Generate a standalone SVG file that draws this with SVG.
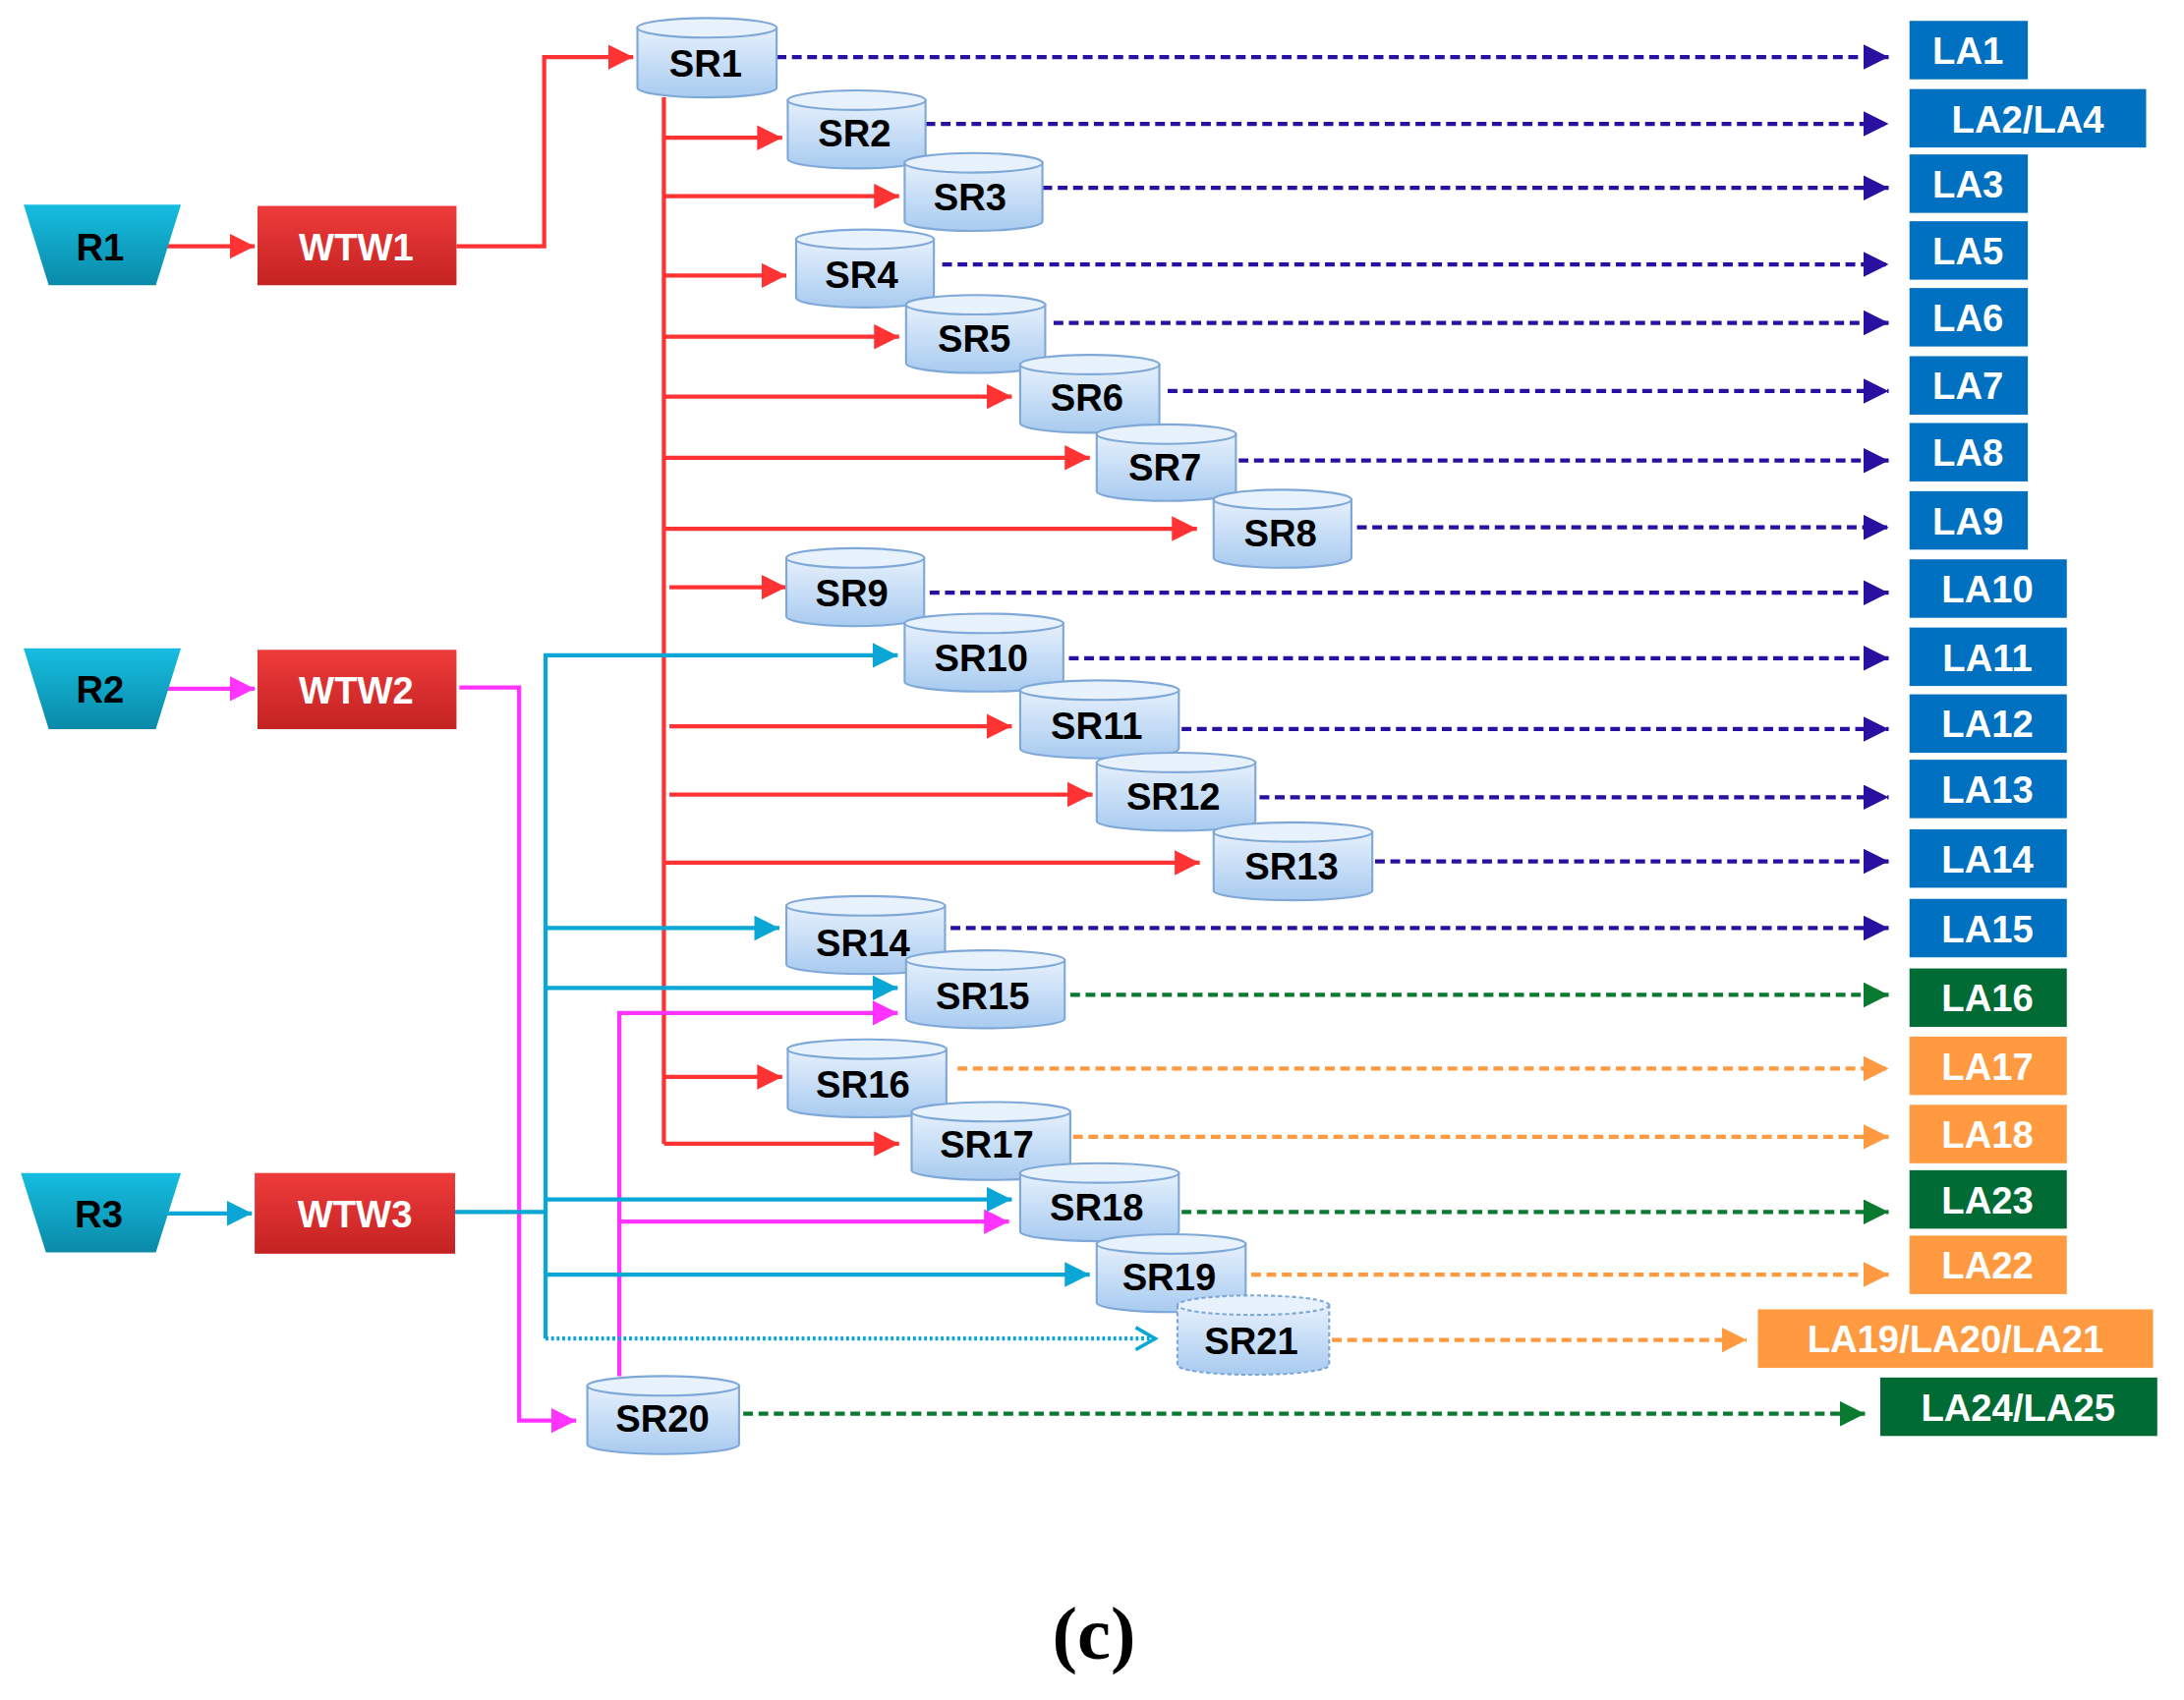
<svg xmlns="http://www.w3.org/2000/svg" width="2222" height="1730" viewBox="0 0 2222 1730">
<defs>
<linearGradient id="cyl" x1="0" y1="0" x2="0" y2="1"><stop offset="0" stop-color="#e6f0fc"/><stop offset="1" stop-color="#a8cbf0"/></linearGradient>
<linearGradient id="tr" x1="0" y1="0" x2="0" y2="1"><stop offset="0" stop-color="#16bde0"/><stop offset="1" stop-color="#0a8aa8"/></linearGradient>
<linearGradient id="wt" x1="0" y1="0" x2="0" y2="1"><stop offset="0" stop-color="#ee3b3b"/><stop offset="1" stop-color="#c42222"/></linearGradient>
<marker id="mr" markerUnits="userSpaceOnUse" markerWidth="20" markerHeight="20" refX="18" refY="9" orient="auto"><path d="M0,0 L18,9 L0,18 z" fill="#f33"/></marker>
<marker id="mm" markerUnits="userSpaceOnUse" markerWidth="20" markerHeight="20" refX="18" refY="9" orient="auto"><path d="M0,0 L18,9 L0,18 z" fill="#f3f"/></marker>
<marker id="mb" markerUnits="userSpaceOnUse" markerWidth="20" markerHeight="20" refX="18" refY="9" orient="auto"><path d="M0,0 L18,9 L0,18 z" fill="#0aa6d6"/></marker>
<marker id="mo" markerUnits="userSpaceOnUse" markerWidth="20" markerHeight="20" refX="16" refY="9" orient="auto"><path d="M2,1 L16,9 L2,17" fill="none" stroke="#0aa6d6" stroke-width="2.5"/></marker>
<marker id="mn" markerUnits="userSpaceOnUse" markerWidth="20" markerHeight="20" refX="18" refY="9" orient="auto"><path d="M0,0 L18,9 L0,18 z" fill="#2a10a0"/></marker>
<marker id="mg" markerUnits="userSpaceOnUse" markerWidth="20" markerHeight="20" refX="18" refY="9" orient="auto"><path d="M0,0 L18,9 L0,18 z" fill="#0a7a30"/></marker>
<marker id="mor" markerUnits="userSpaceOnUse" markerWidth="20" markerHeight="20" refX="18" refY="9" orient="auto"><path d="M0,0 L18,9 L0,18 z" fill="#ff9a40"/></marker>
</defs>
<style>
text{font-family:"Liberation Sans",Arial,sans-serif;font-weight:bold;text-anchor:middle}
.n{font-size:27px;fill:#000}
.w{font-size:27px;fill:#fff}
.cb{fill:url(#cyl);stroke:#7fa8d8;stroke-width:1.5}
.ct{fill:#e8f2fd;stroke:#7fa8d8;stroke-width:1.5}
.red{stroke:#f33;stroke-width:3;fill:none}
.mag{stroke:#f3f;stroke-width:3;fill:none}
.blu{stroke:#0aa6d6;stroke-width:3;fill:none}
.nav{stroke:#2a10a0;stroke-width:3;fill:none;stroke-dasharray:7 4;marker-end:url(#mn)}
.grn{stroke:#0a7a30;stroke-width:3;fill:none;stroke-dasharray:7 4;marker-end:url(#mg)}
.org{stroke:#ff9a40;stroke-width:3;fill:none;stroke-dasharray:7 4;marker-end:url(#mor)}
.lb{fill:#0070c0}.lg{fill:#006b35}.lo{fill:#ff9a40}
</style>
<g transform="scale(1.416)">
<g id="connectors">
<path class="red" d="M120,177 H183" marker-end="url(#mr)"/>
<path class="red" d="M328,177 H391 V41 H455" marker-end="url(#mr)"/>
<path class="red" d="M477,70 V822"/>
<g class="red" marker-end="url(#mr)">
<path d="M477,99 H562"/><path d="M477,141 H646"/><path d="M477,198 H565"/><path d="M477,242 H646"/>
<path d="M477,285 H727"/><path d="M477,329 H783"/><path d="M477,380 H860"/><path d="M481,422 H565"/>
<path d="M481,522 H727"/><path d="M481,571 H785"/><path d="M477,620 H862"/><path d="M477,774 H562"/><path d="M477,822 H646"/>
</g>
<path class="mag" d="M120,495 H183" marker-end="url(#mm)"/>
<path class="mag" d="M330,494 H373 V1021 H414" marker-end="url(#mm)"/>
<path class="mag" d="M445,989 V728 H645" marker-end="url(#mm)"/>
<path class="mag" d="M445,878 H725" marker-end="url(#mm)"/>
<path class="blu" d="M120,872 H181" marker-end="url(#mb)"/>
<path class="blu" d="M327,871 H392"/>
<path class="blu" d="M392,962 V471 H645" marker-end="url(#mb)"/>
<g class="blu" marker-end="url(#mb)">
<path d="M392,667 H560"/><path d="M392,710 H645"/><path d="M392,862 H727"/><path d="M392,916 H783"/>
</g>
<path class="blu" d="M392,962 H830" stroke-dasharray="2 2" marker-end="url(#mo)"/>
<path class="nav" d="M558,41 H1357"/>
<path class="nav" d="M665,89 H1357"/>
<path class="nav" d="M749,135 H1357"/>
<path class="nav" d="M677,190 H1357"/>
<path class="nav" d="M757,232 H1357"/>
<path class="nav" d="M839,281 H1357"/>
<path class="nav" d="M890,331 H1357"/>
<path class="nav" d="M975,379 H1357"/>
<path class="nav" d="M668,426 H1357"/>
<path class="nav" d="M768,473 H1357"/>
<path class="nav" d="M849,524 H1357"/>
<path class="nav" d="M905,573 H1357"/>
<path class="nav" d="M988,619 H1357"/>
<path class="nav" d="M683,667 H1357"/>
<path class="grn" d="M769,715 H1357"/>
<path class="org" d="M688,768 H1357"/>
<path class="org" d="M771,817 H1357"/>
<path class="grn" d="M849,871 H1357"/>
<path class="org" d="M899,916 H1357"/>
<path class="org" d="M957,963 H1255"/>
<path class="grn" d="M534,1016 H1340"/>
</g>
<g id="R1"><path d="M17,147 H130 L112,205 H35 Z" fill="url(#tr)"/><text class="n" x="72" y="187">R1</text></g>
<g id="R2"><path d="M17,466 H130 L112,524 H35 Z" fill="url(#tr)"/><text class="n" x="72" y="505">R2</text></g>
<g id="R3"><path d="M15,843 H130 L112,900 H33 Z" fill="url(#tr)"/><text class="n" x="71" y="882">R3</text></g>
<g id="WTW1"><rect x="185" y="148" width="143" height="57" fill="url(#wt)"/><text class="w" x="256" y="187">WTW1</text></g>
<g id="WTW2"><rect x="185" y="467" width="143" height="57" fill="url(#wt)"/><text class="w" x="256" y="506">WTW2</text></g>
<g id="WTW3"><rect x="183" y="843" width="144" height="58" fill="url(#wt)"/><text class="w" x="255" y="882">WTW3</text></g>
<g id="SR1"><path class="cb" d="M458,20 V63 A50,7 0 0 0 558,63 V20 Z"/><ellipse class="ct" cx="508" cy="20" rx="50" ry="7"/><text class="n" x="507" y="55">SR1</text></g>
<g id="SR2"><path class="cb" d="M566,72 V114 A49.5,7 0 0 0 665,114 V72 Z"/><ellipse class="ct" cx="615.5" cy="72" rx="49.5" ry="7"/><text class="n" x="614" y="105">SR2</text></g>
<g id="SR3"><path class="cb" d="M650,117 V159 A49.5,7 0 0 0 749,159 V117 Z"/><ellipse class="ct" cx="699.5" cy="117" rx="49.5" ry="7"/><text class="n" x="697" y="151">SR3</text></g>
<g id="SR4"><path class="cb" d="M572,172 V214 A49.5,7 0 0 0 671,214 V172 Z"/><ellipse class="ct" cx="621.5" cy="172" rx="49.5" ry="7"/><text class="n" x="619" y="207">SR4</text></g>
<g id="SR5"><path class="cb" d="M651,219 V261 A50,7 0 0 0 751,261 V219 Z"/><ellipse class="ct" cx="701" cy="219" rx="50" ry="7"/><text class="n" x="700" y="253">SR5</text></g>
<g id="SR6"><path class="cb" d="M733,262 V304 A50,7 0 0 0 833,304 V262 Z"/><ellipse class="ct" cx="783" cy="262" rx="50" ry="7"/><text class="n" x="781" y="295">SR6</text></g>
<g id="SR7"><path class="cb" d="M788,312 V353 A50,7 0 0 0 888,353 V312 Z"/><ellipse class="ct" cx="838" cy="312" rx="50" ry="7"/><text class="n" x="837" y="345">SR7</text></g>
<g id="SR8"><path class="cb" d="M872,359 V401 A49.5,7 0 0 0 971,401 V359 Z"/><ellipse class="ct" cx="921.5" cy="359" rx="49.5" ry="7"/><text class="n" x="920" y="393">SR8</text></g>
<g id="SR9"><path class="cb" d="M565,401 V443 A49.5,7 0 0 0 664,443 V401 Z"/><ellipse class="ct" cx="614.5" cy="401" rx="49.5" ry="7"/><text class="n" x="612" y="436">SR9</text></g>
<g id="SR10"><path class="cb" d="M650,448 V490 A57,7 0 0 0 764,490 V448 Z"/><ellipse class="ct" cx="707" cy="448" rx="57" ry="7"/><text class="n" x="705" y="482">SR10</text></g>
<g id="SR11"><path class="cb" d="M733,496 V538 A57,7 0 0 0 847,538 V496 Z"/><ellipse class="ct" cx="790" cy="496" rx="57" ry="7"/><text class="n" x="788" y="531">SR11</text></g>
<g id="SR12"><path class="cb" d="M788,548 V590 A57,7 0 0 0 902,590 V548 Z"/><ellipse class="ct" cx="845" cy="548" rx="57" ry="7"/><text class="n" x="843" y="582">SR12</text></g>
<g id="SR13"><path class="cb" d="M872,598 V640 A57,7 0 0 0 986,640 V598 Z"/><ellipse class="ct" cx="929" cy="598" rx="57" ry="7"/><text class="n" x="928" y="632">SR13</text></g>
<g id="SR14"><path class="cb" d="M565,651 V693 A57,7 0 0 0 679,693 V651 Z"/><ellipse class="ct" cx="622" cy="651" rx="57" ry="7"/><text class="n" x="620" y="687">SR14</text></g>
<g id="SR15"><path class="cb" d="M651,690 V732 A57,7 0 0 0 765,732 V690 Z"/><ellipse class="ct" cx="708" cy="690" rx="57" ry="7"/><text class="n" x="706" y="725">SR15</text></g>
<g id="SR16"><path class="cb" d="M566,754 V796 A57,7 0 0 0 680,796 V754 Z"/><ellipse class="ct" cx="623" cy="754" rx="57" ry="7"/><text class="n" x="620" y="789">SR16</text></g>
<g id="SR17"><path class="cb" d="M655,799 V841 A57,7 0 0 0 769,841 V799 Z"/><ellipse class="ct" cx="712" cy="799" rx="57" ry="7"/><text class="n" x="709" y="832">SR17</text></g>
<g id="SR18"><path class="cb" d="M733,843 V885 A57,7 0 0 0 847,885 V843 Z"/><ellipse class="ct" cx="790" cy="843" rx="57" ry="7"/><text class="n" x="788" y="877">SR18</text></g>
<g id="SR19"><path class="cb" d="M788,894 V936 A53.5,7 0 0 0 895,936 V894 Z"/><ellipse class="ct" cx="841.5" cy="894" rx="53.5" ry="7"/><text class="n" x="840" y="927">SR19</text></g>
<g id="SR21"><path class="cb" d="M846,938 V981 A54.5,7 0 0 0 955,981 V938 Z" stroke-dasharray="3 2"/><ellipse class="ct" cx="900.5" cy="938" rx="54.5" ry="7" stroke-dasharray="3 2"/><text class="n" x="899" y="973">SR21</text></g>
<g id="SR20"><path class="cb" d="M422,996 V1038 A54.5,7 0 0 0 531,1038 V996 Z"/><ellipse class="ct" cx="476.5" cy="996" rx="54.5" ry="7"/><text class="n" x="476" y="1029">SR20</text></g>
<g id="LA1"><rect class="lb" x="1372" y="15" width="85" height="42"/><text class="w" x="1414" y="46">LA1</text></g>
<g id="LA2LA4"><rect class="lb" x="1372" y="64" width="170" height="42"/><text class="w" x="1457" y="95">LA2/LA4</text></g>
<g id="LA3"><rect class="lb" x="1372" y="111" width="85" height="42"/><text class="w" x="1414" y="142">LA3</text></g>
<g id="LA5"><rect class="lb" x="1372" y="159" width="85" height="42"/><text class="w" x="1414" y="190">LA5</text></g>
<g id="LA6"><rect class="lb" x="1372" y="207" width="85" height="42"/><text class="w" x="1414" y="238">LA6</text></g>
<g id="LA7"><rect class="lb" x="1372" y="256" width="85" height="42"/><text class="w" x="1414" y="287">LA7</text></g>
<g id="LA8"><rect class="lb" x="1372" y="304" width="85" height="42"/><text class="w" x="1414" y="335">LA8</text></g>
<g id="LA9"><rect class="lb" x="1372" y="353" width="85" height="42"/><text class="w" x="1414" y="384">LA9</text></g>
<g id="LA10"><rect class="lb" x="1372" y="402" width="113" height="42"/><text class="w" x="1428" y="433">LA10</text></g>
<g id="LA11"><rect class="lb" x="1372" y="451" width="113" height="42"/><text class="w" x="1428" y="482">LA11</text></g>
<g id="LA12"><rect class="lb" x="1372" y="499" width="113" height="42"/><text class="w" x="1428" y="530">LA12</text></g>
<g id="LA13"><rect class="lb" x="1372" y="546" width="113" height="42"/><text class="w" x="1428" y="577">LA13</text></g>
<g id="LA14"><rect class="lb" x="1372" y="596" width="113" height="42"/><text class="w" x="1428" y="627">LA14</text></g>
<g id="LA15"><rect class="lb" x="1372" y="646" width="113" height="42"/><text class="w" x="1428" y="677">LA15</text></g>
<g id="LA16"><rect class="lg" x="1372" y="696" width="113" height="42"/><text class="w" x="1428" y="727">LA16</text></g>
<g id="LA17"><rect class="lo" x="1372" y="745" width="113" height="42"/><text class="w" x="1428" y="776">LA17</text></g>
<g id="LA18"><rect class="lo" x="1372" y="794" width="113" height="42"/><text class="w" x="1428" y="825">LA18</text></g>
<g id="LA23"><rect class="lg" x="1372" y="841" width="113" height="42"/><text class="w" x="1428" y="872">LA23</text></g>
<g id="LA22"><rect class="lo" x="1372" y="888" width="113" height="42"/><text class="w" x="1428" y="919">LA22</text></g>
<g id="LA19LA20LA21"><rect class="lo" x="1263" y="941" width="284" height="42"/><text class="w" x="1405" y="972">LA19/LA20/LA21</text></g>
<g id="LA24LA25"><rect class="lg" x="1351" y="990" width="199" height="42"/><text class="w" x="1450" y="1021">LA24/LA25</text></g>
<text x="786" y="1192" style="font-family:'Liberation Serif',serif;font-weight:bold;font-size:54px;fill:#000">(c)</text>
</g>
</svg>
